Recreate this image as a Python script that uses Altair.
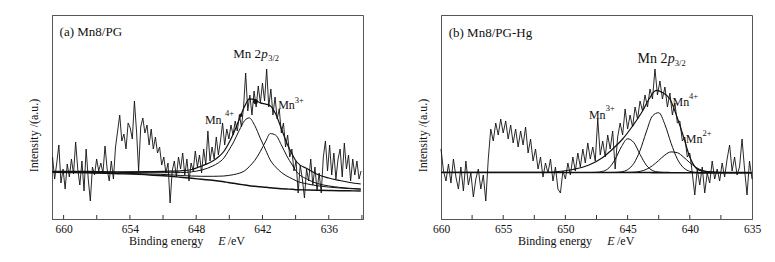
import altair as alt
import numpy as np
import pandas as pd

# ---------------- Panel (a) Mn8/PG ----------------
A_E_START = 661.0
A_E_STEP = 0.19
A_INTENSITY = [
    62, 40, 56, 74, 36, 50, 30, 55, 42, 60,
    45, 77, 50, 34, 58, 28, 70, 40, 18, 52,
    44, 60, 48, 56, 46, 73, 50, 38, 58, 40,
    72, 88, 104, 78, 85, 70, 96, 91, 80, 118,
    88, 48, 92, 101, 86, 94, 74, 90, 70, 82,
    66, 72, 54, 62, 46, 56, 16, 48, 58, 42,
    62, 50, 66, 44, 60, 38, 56, 48, 68, 52,
    64, 46, 70, 54, 88, 58, 72, 60, 82, 64,
    78, 96, 74, 90, 80, 94, 84, 98, 88, 104,
    92, 112, 146, 108, 124, 104, 128, 112, 133, 116,
    136, 118, 150, 112, 130, 104, 122, 100, 110, 86,
    96, 72, 84, 62, 70, 48, 58, 26, 54, 40,
    21, 50, 38, 60, 34, 52, 28, 46, 26, 62,
    78, 48, 74, 44, 66, 40, 60, 70, 42, 76,
    50, 64, 38, 60, 44, 58, 40, 48,
]
A_FIT_E = [661.0, 657.9, 655.1, 652.2, 650.3, 649.4, 648.4, 647.5, 646.5, 646.0,
           645.5, 645.1, 644.6, 644.1, 643.6, 643.2, 642.7, 642.2, 641.7, 641.3,
           640.8, 640.3, 639.8, 639.3, 638.9, 637.9, 637.0, 636.0, 635.0, 634.1, 633.1]
A_BG = [46.7, 46.3, 45.3, 44.0, 42.7, 41.7, 40.7, 39.7, 38.7, 38.0,
        37.3, 36.5, 35.7, 34.8, 34.0, 33.3, 32.7, 32.2, 31.7, 31.2,
        30.7, 30.3, 30.0, 29.7, 29.3, 29.0, 28.7, 28.5, 28.3, 28.2, 28.0]
A_MN4 = [47.3, 47.2, 46.6, 46.3, 46.3, 46.4, 47.2, 49.0, 53.0, 56.1,
         60.9, 67.7, 77.2, 88.7, 98.6, 101.1, 93.5, 80.9, 68.7, 59.1,
         51.9, 46.7, 43.0, 40.2, 37.9, 35.0, 33.2, 31.9, 31.0, 30.4, 29.8]
A_MN3 = [47.0, 46.8, 45.9, 45.0, 44.2, 43.5, 43.0, 42.7, 42.7, 42.8,
         43.0, 43.5, 44.4, 45.8, 48.3, 52.3, 58.5, 67.4, 77.9, 85.4,
         83.8, 74.3, 63.1, 54.0, 47.2, 39.5, 35.4, 33.1, 31.6, 30.7, 30.0]
A_ENV = [47.6, 47.7, 47.2, 47.3, 47.8, 48.2, 49.5, 53.0, 58.0, 62.0,
         67.5, 74.7, 85.9, 99.7, 112.9, 120.1, 119.3, 116.1, 114.9, 113.3,
         105.0, 90.7, 76.1, 64.5, 57.0, 50.0, 44.5, 41.0, 38.5, 36.5, 35.0]
A_DOT_E = [643.96, 642.63]
A_DOT_I = [103.7, 117.3]
A_LABELS = [660, 654, 648, 642, 636]
A_TICKS = [660, 657, 654, 651, 648, 645, 642, 639, 636, 633]

# ---------------- Panel (b) Mn8/PG-Hg ----------------
B_E_START = 660.0
B_E_STEP = 0.2
B_INTENSITY = [
    70, 48, 38, 55, 36, 60, 42, 30, 52, 28, 58, 34, 46, 22, 40, 50, 30, 44, 18, 60,
    90, 78, 96, 84, 100, 86, 98, 80, 94, 76, 90, 72, 88, 74, 92, 66, 80, 58, 70, 50,
    62, 42, 56, 46, 60, 38, 52, 30, 26, 48, 40, 56, 44, 62, 48, 66, 52, 70, 56, 76,
    60, 72, 58, 100, 64, 78, 62, 84, 70, 88, 50, 82, 96, 84, 110, 90, 104, 92, 112, 100,
    118, 108, 124, 112, 130, 120, 150, 124, 138, 120, 132, 112, 126, 104, 116, 96, 98, 78, 82, 62,
    66, 46, 24, 50, 34, 52, 26, 46, 36, 58, 40, 50, 38, 56, 42, 60, 74, 48, 62, 44,
    52, 80, 50, 24, 58, 40,
]
B_FIT_E = [660, 648, 647.5, 647, 646.5, 646, 645.5, 645, 644.5, 644, 643.5, 643,
           642.5, 642, 641.5, 641, 640.5, 640, 639.5, 639, 638.5, 638, 637.5, 635]
B_BG = [46.5, 46.5, 46.5, 46.5, 46.5, 46.5, 46.5, 46.5, 46.5, 46.5, 46.5, 46.4,
        46.4, 46.4, 46.3, 46.3, 46.2, 46.2, 46.2, 46.1, 46.1, 46.1, 46.0, 46.0]
B_MN3 = [46.5, 46.5, 46.7, 47.6, 51.1, 59.7, 72.2, 80.2, 76.5, 64.6, 53.9, 48.5,
         46.9, 46.5, 46.5, 46.5, 46.5, 46.5, 46.5, 46.5, 46.5, 46.5, 46.5, 46.5]
B_MN4 = [46.5, 46.5, 46.5, 46.5, 46.5, 46.6, 47.2, 49.3, 55.6, 68.5, 87.0, 103.0,
         106.3, 94.4, 75.6, 59.9, 51.2, 47.7, 46.7, 46.5, 46.5, 46.5, 46.5, 46.5]
B_MN2 = [46.5, 46.5, 46.5, 46.5, 46.5, 46.5, 46.5, 46.6, 46.8, 47.6, 49.6, 53.3,
         58.5, 64.0, 67.1, 66.3, 61.9, 56.3, 51.6, 48.6, 47.2, 46.7, 46.5, 46.5]
B_ENV_E = [660, 652, 651.0, 649.4, 648.1, 647.0, 646.2, 645.4, 644.6, 643.8, 643.3,
           642.7, 642.2, 641.6, 641.0, 640.5, 640.0, 639.5, 639.0, 638.0, 636.0, 635.0]
B_ENV = [46.6, 46.6, 47.0, 49.5, 54.0, 61.5, 70.0, 80.0, 93.0, 108.0, 119.5,
         128.7, 126.5, 120.0, 101.0, 82.0, 62.0, 51.0, 48.0, 47.0, 46.6, 46.5]
B_LABELS = [660, 655, 650, 645, 640, 635]
B_TICKS = [657.5, 655, 652.5, 650, 647.5, 645, 642.5, 640, 637.5]

# ---------------- styling ----------------
W, H = 311, 204
FONT = "Liberation Serif"
INK = "#111111"
FRAME = "#555555"
XTITLE_BASELINE = H + 26


def xenc(dom, labels):
    return alt.X(
        "E:Q",
        scale=alt.Scale(domain=dom, reverse=True, nice=False, zero=False),
        axis=alt.Axis(values=labels, format="d", ticks=False, grid=False, title=None,
                      labelFont=FONT, labelFontSize=11.5, labelColor=INK, labelPadding=4,
                      labelFlush=False, labelOverlap=False,
                      domainColor=FRAME, domainWidth=1),
    )


def yenc():
    return alt.Y(
        "I:Q",
        scale=alt.Scale(domain=[0, 204], nice=False, zero=False),
        axis=alt.Axis(labels=False, ticks=False, grid=False, domainColor=FRAME, domainWidth=1,
                      title="Intensity /(a.u.)", titleFont=FONT, titleFontSize=12,
                      titleFontWeight="normal", titleColor=INK, titleAngle=270,
                      titleX=-15, titleY=120, titleAlign="center",
                      titleBaseline="alphabetic"),
    )


def text_layer(rows, X, size, italic=False, y_pixel=None):
    df = pd.DataFrame(rows, columns=["t", "E", "I"])
    mk = alt.Chart(df).mark_text(align="left", baseline="alphabetic", font=FONT,
                                 fontSize=size, color=INK,
                                 fontStyle="italic" if italic else "normal")
    if y_pixel is None:
        return mk.encode(x=X, y=yenc(), text="t:N")
    return mk.encode(x=X, y=alt.value(y_pixel), text="t:N")


def panel(e_raw, i_raw, fit_lines, dots, dom, labels, ticks, texts):
    X = xenc(dom, labels)
    layers = []
    raw = pd.DataFrame({"E": e_raw, "I": i_raw})
    layers.append(alt.Chart(raw).mark_line(color=INK, strokeWidth=0.9).encode(x=X, y=yenc()))
    for e, v, w in fit_lines:
        df = pd.DataFrame({"E": e, "I": v})
        layers.append(alt.Chart(df).mark_line(color=INK, strokeWidth=w, interpolate="monotone")
                      .encode(x=X, y=yenc()))
    for e, v, s in dots:
        df = pd.DataFrame({"E": [e], "I": [v]})
        layers.append(alt.Chart(df).mark_circle(color=INK, opacity=1, size=s).encode(x=X, y=yenc()))
    tdf = pd.DataFrame({"E": ticks})
    layers.append(alt.Chart(tdf).mark_rule(color="#333333", strokeWidth=1)
                  .encode(x=X, y=alt.value(H), y2=alt.value(H - 4)))
    for rows, size, italic, ypix in texts:
        layers.append(text_layer(rows, X, size, italic, ypix))
    return alt.layer(*layers).properties(width=W, height=H)


a_E = np.round(A_E_START - A_E_STEP * np.arange(len(A_INTENSITY)), 3)
b_E = np.round(B_E_START - B_E_STEP * np.arange(len(B_INTENSITY)), 3)

pa = panel(
    a_E, A_INTENSITY,
    [(A_FIT_E, A_BG, 1.4), (A_FIT_E, A_MN4, 1.0), (A_FIT_E, A_MN3, 1.0), (A_FIT_E, A_ENV, 1.2)],
    [(A_DOT_E[0], A_DOT_I[0], 12), (A_DOT_E[1], A_DOT_I[1], 24)],
    [632.9, 661.05], A_LABELS, A_TICKS,
    [
        ([("(a) Mn8/PG", 660.36, 183.5)], 13, False, None),
        ([("Mn 2", 644.64, 161)], 13, False, None),
        ([("p", 642.1, 161)], 13, True, None),
        ([("3/2", 641.48, 158.5)], 8.5, False, None),
        ([("Mn", 647.21, 95.3), ("Mn", 640.58, 110.3)], 12, False, None),
        ([("4+", 645.4, 103), ("3+", 639.08, 116.3)], 8.5, False, None),
        ([("Binding energy", 654.07, 0), ("/eV", 645.15, 0)], 12, False, XTITLE_BASELINE),
        ([("E", 646.0, 0)], 12, True, XTITLE_BASELINE),
    ],
)

pb = panel(
    b_E, B_INTENSITY,
    [(B_FIT_E, B_BG, 1.6), (B_FIT_E, B_MN3, 1.0), (B_FIT_E, B_MN4, 1.0), (B_FIT_E, B_MN2, 1.0),
     (B_ENV_E, B_ENV, 1.2)],
    [],
    [635, 660], B_LABELS, B_TICKS,
    [
        ([("(b) Mn8/PG-Hg", 659.38, 182)], 13, False, None),
        ([("Mn 2", 644.21, 156.3)], 14, False, None),
        ([("p", 641.78, 156.3)], 14, True, None),
        ([("3/2", 641.2, 153)], 8.5, False, None),
        ([("Mn", 641.39, 113), ("Mn", 640.32, 76.3), ("Mn", 648.11, 99.7)], 12, False, None),
        ([("4+", 640.06, 119.7), ("2+", 638.98, 83), ("3+", 646.76, 108)], 8.5, False, None),
        ([("Binding energy", 653.82, 0), ("/eV", 645.85, 0)], 12, False, XTITLE_BASELINE),
        ([("E", 646.63, 0)], 12, True, XTITLE_BASELINE),
    ],
)

chart = (
    alt.hconcat(pa, pb, spacing=50)
    .properties(padding={"left": 26, "top": 14, "right": 5, "bottom": 5}, background="white")
    .configure_view(stroke=FRAME, strokeWidth=1)
)

chart.save("out.html", embed_options={"renderer": "svg", "actions": False})
